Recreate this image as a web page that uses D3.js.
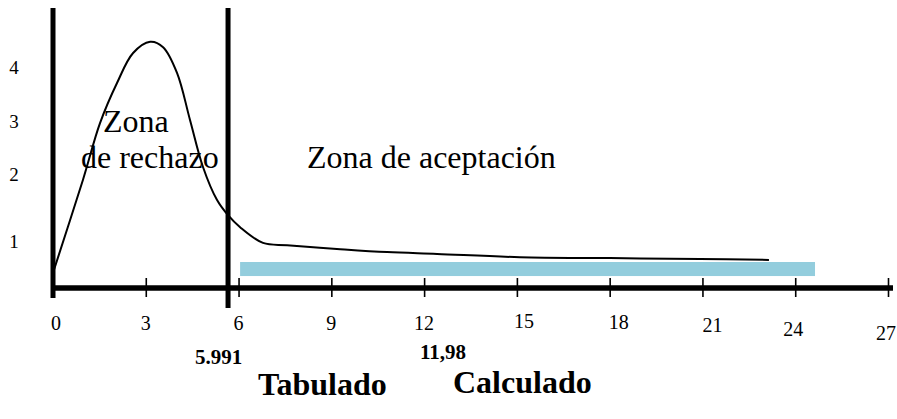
<!DOCTYPE html>
<html>
<head>
<meta charset="utf-8">
<script src="https://cdn.jsdelivr.net/npm/d3@7"></script>
<style>
  html, body { margin: 0; padding: 0; background: #fff; }
  svg { display: block; }
  text { font-family: "Liberation Serif", "Times New Roman", "DejaVu Serif", serif; fill: #000; }
</style>
</head>
<body>
<svg id="chart" width="897" height="419" font-family="Liberation Serif, serif"></svg>
<script>
// ---- data ----
const xTicks = [0, 3, 6, 9, 12, 15, 18, 21, 24, 27];
const yLabels = [1, 2, 3, 4];
const curveX = [0, 0.97, 1.52, 2.07, 2.59, 3.14, 3.56, 4.01, 4.43, 4.85, 5.30, 5.66, 6.05, 6.79, 7.57, 9.18, 10.80, 12.42, 15.10, 18.01, 20.92, 23.15];
const curveY = [0.33, 1.93, 2.97, 3.72, 4.28, 4.49, 4.39, 3.91, 3.03, 2.15, 1.63, 1.40, 1.22, 0.98, 0.93, 0.85, 0.78, 0.74, 0.67, 0.65, 0.63, 0.61];
const criticalLine = [5.66];
const acceptBarX = [6.05, 24.64];
const acceptBarY = [0.26, 0.565];
const zoneLabels = ["Zona", "de rechazo", "Zona de aceptación"];
const valueLabels = ["5.991", "11,98"];
const valueTitles = ["Tabulado", "Calculado"];

// ---- scales ----
const svg = d3.select("#chart");
const x = d3.scaleLinear().domain([0, 27]).range([53, 888]);
const y = d3.scaleLinear().domain([0, 1, 2, 4]).range([288, 242, 175, 68]);

// acceptance bar
svg.append("rect")
  .attr("x", x(acceptBarX[0]))
  .attr("y", y(acceptBarY[1]))
  .attr("width", x(acceptBarX[1]) - x(acceptBarX[0]))
  .attr("height", y(acceptBarY[0]) - y(acceptBarY[1]))
  .attr("fill", "#93CDDD");

// curve
const pts = curveX.map((v, i) => [v, curveY[i]]);
svg.append("path")
  .datum(pts)
  .attr("fill", "none")
  .attr("stroke", "#000")
  .attr("stroke-width", 2)
  .attr("d", d3.line().x(d => x(d[0])).y(d => y(d[1])).curve(d3.curveCatmullRom.alpha(0.5)));

// x axis
const xAxis = d3.axisBottom(x).tickValues(xTicks).tickSize(0).tickFormat(d3.format("d"));
const gx = svg.append("g").attr("transform", "translate(0,288)").call(xAxis);
gx.select(".domain").remove();
gx.selectAll(".tick text").remove();
gx.selectAll(".tick").append("line")
  .attr("y1", -10).attr("y2", 9)
  .attr("stroke", "#000").attr("stroke-width", 1.6);
svg.append("line")
  .attr("x1", x(0)).attr("x2", 893)
  .attr("y1", 288).attr("y2", 288)
  .attr("stroke", "#000").attr("stroke-width", 5.5);

const nudge = {0: [3, 0], 15: [7, -2], 18: [9, -1], 21: [10, 2], 24: [-2, 6], 27: [-2, 10]};
svg.append("g").selectAll("text").data(xTicks).join("text")
  .attr("x", d => x(d) + (nudge[d] ? nudge[d][0] : 0))
  .attr("y", d => 330 + (nudge[d] ? nudge[d][1] : 0))
  .attr("text-anchor", "middle")
  .attr("font-size", 20)
  .text(d => d);

// y labels
svg.append("g").selectAll("text").data(yLabels).join("text")
  .attr("x", 14)
  .attr("y", d => y(d))
  .attr("dy", "0.34em")
  .attr("text-anchor", "middle")
  .attr("font-size", 19)
  .text(d => d);

// vertical lines
svg.append("line")
  .attr("x1", x(0)).attr("x2", x(0))
  .attr("y1", 8).attr("y2", 298)
  .attr("stroke", "#000").attr("stroke-width", 5);
svg.append("line")
  .attr("x1", x(criticalLine[0])).attr("x2", x(criticalLine[0]))
  .attr("y1", 8).attr("y2", 308)
  .attr("stroke", "#000").attr("stroke-width", 5);

// zone labels
svg.append("text").attr("x", 103).attr("y", 132).attr("font-size", 32).text(zoneLabels[0]);
svg.append("text").attr("x", 81).attr("y", 168).attr("font-size", 32).text(zoneLabels[1]);
svg.append("text").attr("x", 307).attr("y", 168).attr("font-size", 32).text(zoneLabels[2]);

// value labels
svg.append("text").attr("x", 195).attr("y", 364).attr("font-size", 21).attr("font-weight", "bold").text(valueLabels[0]);
svg.append("text").attr("x", 420).attr("y", 359).attr("font-size", 21).attr("font-weight", "bold").text(valueLabels[1]);
svg.append("text").attr("x", 258).attr("y", 395).attr("font-size", 32).attr("font-weight", "bold").text(valueTitles[0]);
svg.append("text").attr("x", 453).attr("y", 393).attr("font-size", 32).attr("font-weight", "bold").text(valueTitles[1]);
</script>
</body>
</html>
